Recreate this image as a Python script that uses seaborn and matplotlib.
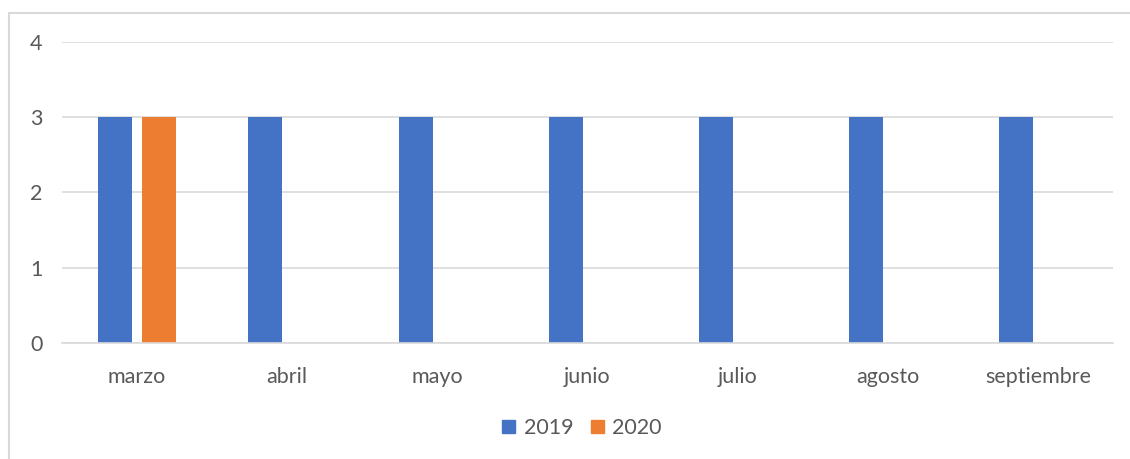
import matplotlib
matplotlib.use("Agg")
import matplotlib.pyplot as plt
import matplotlib.patches as mpatches
import seaborn as sns
import pandas as pd
import numpy as np

months = ["marzo", "abril", "mayo", "junio", "julio", "agosto", "septiembre"]
v2019 = [3, 3, 3, 3, 3, 3, 3]
v2020 = [3, np.nan, np.nan, np.nan, np.nan, np.nan, np.nan]
series = ["2019", "2020"]
colors = ["#4472C4", "#ED7D31"]
yticks = [0, 1, 2, 3, 4]

df = pd.DataFrame({
    "mes": months * 2,
    "serie": [series[0]] * len(months) + [series[1]] * len(months),
    "valor": v2019 + v2020,
})

sns.set_style("white")
plt.rcParams["font.family"] = ["Lato", "DejaVu Sans"]

W, H = 1130, 459
FS = 15.5
fig = plt.figure(figsize=(W / 100, H / 100), dpi=100)
ax = fig.add_axes([62 / W, (H - 343) / H, (1113 - 62) / W, (343 - 42) / H])

sns.barplot(data=df, x="mes", y="valor", hue="serie", order=months,
            hue_order=series, palette=colors, width=0.58, gap=0.22,
            saturation=1, linewidth=0, ax=ax, legend=False)

ax.set_ylim(0, 4)
ax.set_xlim(-0.5, len(months) - 0.5)
ax.set_yticks(yticks)
ax.set_yticklabels([str(t) for t in yticks])
ax.yaxis.grid(True, color="#d9d9d9", linewidth=1.2)
ax.set_axisbelow(True)
for s in ["top", "right", "left"]:
    ax.spines[s].set_visible(False)
ax.spines["bottom"].set_color("#d9d9d9")
ax.spines["bottom"].set_linewidth(1.2)
ax.tick_params(axis="both", length=0, colors="#595959", labelsize=FS)
ax.tick_params(axis="x", pad=17)
ax.tick_params(axis="y", pad=14)
ax.set_xlabel("")
ax.set_ylabel("")

handles = [mpatches.Patch(color=c, label=s) for c, s in zip(colors, series)]
leg = fig.legend(handles=handles, loc="center", bbox_to_anchor=(582 / W, 1 - 428 / H),
                 ncol=2, frameon=False, fontsize=FS, handlelength=0.6,
                 handleheight=0.6, handletextpad=0.4, columnspacing=0.8)
for t in leg.get_texts():
    t.set_color("#595959")

border = mpatches.Rectangle((9 / W, -0.1), 2.0, (H - 13) / H + 0.1,
                            transform=fig.transFigure, fill=False,
                            edgecolor="#d9d9d9", linewidth=1.5)
fig.patches.append(border)

fig.savefig("out.png", dpi=100)
